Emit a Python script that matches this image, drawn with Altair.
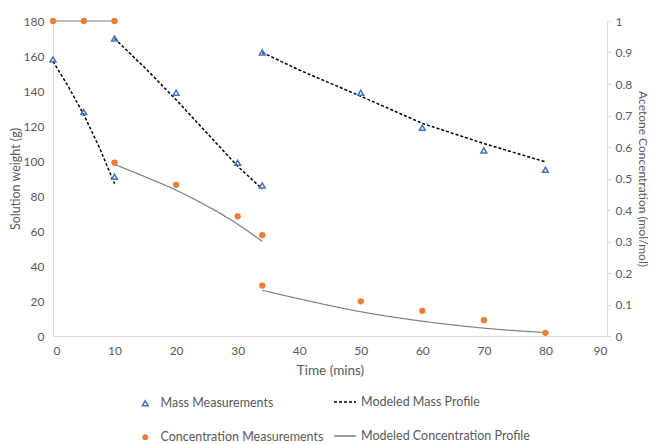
import altair as alt
import pandas as pd

# ---- data ----
mass_time = [0, 5, 10, 10, 20, 30, 34, 34, 50, 60, 70, 80]
mass_weight = [158, 128, 91, 170, 139, 99, 86, 162, 139, 119, 106, 95]

conc_time = [0, 5, 10, 10, 20, 30, 34, 34, 50, 60, 70, 80]
conc_value = [1.0, 1.0, 1.0, 0.55, 0.48, 0.38, 0.32, 0.16, 0.11, 0.08, 0.05, 0.01]

model_mass_segment = [1] * 5 + [2] * 6 + [3] * 6
model_mass_time = [0, 2.5, 5, 7.5, 10, 10, 15, 20, 25, 30, 34, 34, 40, 50, 60, 70, 80]
model_mass_weight = [157, 142.5, 126.5, 108, 87, 170, 153, 135, 116, 97, 84,
                     162, 152, 137, 121.5, 110, 99.5]

model_conc_segment = [1] * 2 + [2] * 6 + [3] * 6
model_conc_time = [0, 10, 10, 15, 20, 25, 30, 34, 34, 40, 50, 60, 70, 80]
model_conc_value = [1.0, 1.0, 0.545, 0.505, 0.463, 0.413, 0.355, 0.30,
                    0.145, 0.118, 0.077, 0.047, 0.025, 0.011]

x_ticks = [0, 10, 20, 30, 40, 50, 60, 70, 80, 90]
left_ticks = [0, 20, 40, 60, 80, 100, 120, 140, 160, 180]
right_ticks = [0, 0.1, 0.2, 0.3, 0.4, 0.5, 0.6, 0.7, 0.8, 0.9, 1]

names = ["Mass Measurements", "Concentration Measurements",
         "Modeled Mass Profile", "Modeled Concentration Profile"]
colors = ["#4472C4", "#ED7D31", "#000000", "#7F7F7F"]

mass_df = pd.DataFrame({"t": mass_time, "v": mass_weight, "series": names[0]})
conc_df = pd.DataFrame({"t": conc_time, "v": conc_value, "series": names[1]})
mm_df = pd.DataFrame({"t": model_mass_time, "v": model_mass_weight,
                      "seg": model_mass_segment, "series": names[2]})
mc_df = pd.DataFrame({"t": model_conc_time, "v": model_conc_value,
                      "seg": model_conc_segment, "series": names[3]})

FONT = "Lato"
GREY = "#595959"
AXC = "#D9D9D9"

x_axis = alt.Axis(values=x_ticks, title="Time (mins)", grid=False, ticks=False,
                  domainColor=AXC, labelPadding=9, titlePadding=7,
                  labelColor=GREY, titleColor=GREY, labelFontSize=12,
                  titleFontSize=13.5, titleFontWeight="normal", labelFont=FONT,
                  titleFont=FONT)
x_enc = alt.X("t:Q", scale=alt.Scale(domain=[0, 90], nice=False, zero=True), axis=x_axis)

left_scale = alt.Scale(domain=[0, 180], nice=False, zero=True)
right_scale = alt.Scale(domain=[0, 1], nice=False, zero=True)


def leg(x, y, size, stroke=False, offset=9):
    kw = dict(orient="none", legendX=x, legendY=y, title=None, padding=0,
              labelFont=FONT, labelFontSize=12.5, labelColor=GREY,
              labelOffset=offset, labelLimit=400, symbolSize=size)
    if stroke:
        kw["symbolType"] = "stroke"
    return alt.Legend(**kw)


mass_pts = alt.Chart(mass_df).mark_point(filled=False, strokeWidth=1.5, size=34, opacity=1).encode(
    x=x_enc,
    y=alt.Y("v:Q", scale=left_scale,
            axis=alt.Axis(orient="left", values=left_ticks, title="Solution weight (g)",
                          grid=False, ticks=False, domainColor=AXC, labelPadding=9,
                          titlePadding=1, labelColor=GREY, titleColor=GREY,
                          labelFontSize=12, titleFontSize=12.5, titleFontWeight="normal",
                          labelFont=FONT, titleFont=FONT)),
    color=alt.Color("series:N", scale=alt.Scale(domain=[names[0]], range=[colors[0]]),
                    legend=leg(86, 376, 34)),
    shape=alt.Shape("series:N", scale=alt.Scale(domain=[names[0]], range=["triangle-up"]),
                    legend=leg(86, 376, 34)),
)

conc_pts = alt.Chart(conc_df).mark_point(filled=True, size=40, opacity=1).encode(
    x=x_enc,
    y=alt.Y("v:Q", scale=right_scale,
            axis=alt.Axis(orient="right", values=right_ticks, format="~g",
                          title="Acetone Concentration (mol/mol)", grid=False, ticks=True,
                          tickSize=4, tickColor=AXC, domainColor=AXC, labelPadding=4,
                          titlePadding=4, labelColor=GREY, titleColor=GREY,
                          labelFontSize=12, titleFontSize=12, titleFontWeight="normal",
                          labelFont=FONT, titleFont=FONT)),
    color=alt.Color("series:N", scale=alt.Scale(domain=[names[1]], range=[colors[1]]),
                    legend=leg(86, 410, 34)),
    shape=alt.Shape("series:N", scale=alt.Scale(domain=[names[1]], range=["circle"]),
                    legend=leg(86, 410, 34)),
)

mm_line = alt.Chart(mm_df).mark_line(strokeWidth=1.5, strokeDash=[3, 2]).encode(
    x=x_enc,
    y=alt.Y("v:Q", scale=left_scale, axis=None),
    detail="seg:N",
    color=alt.Color("series:N", scale=alt.Scale(domain=[names[2]], range=[colors[2]]),
                    legend=leg(280, 369, 484, True, 4)),
    strokeDash=alt.StrokeDash("series:N", scale=alt.Scale(domain=[names[2]], range=[[3, 2]]),
                              legend=leg(280, 369, 484, True, 4)),
)

mc_line = alt.Chart(mc_df).mark_line(strokeWidth=1.2, interpolate="monotone").encode(
    x=x_enc,
    y=alt.Y("v:Q", scale=right_scale, axis=None),
    detail="seg:N",
    color=alt.Color("series:N", scale=alt.Scale(domain=[names[3]], range=[colors[3]]),
                    legend=leg(280, 403, 484, True, 4)),
    strokeDash=alt.StrokeDash("series:N", scale=alt.Scale(domain=[names[3]], range=[[1, 0]]),
                              legend=leg(280, 403, 484, True, 4)),
)

chart = alt.layer(mc_line, mm_line, mass_pts, conc_pts).resolve_scale(
    y="independent", color="independent", shape="independent", strokeDash="independent"
).properties(
    width=554, height=315,
    autosize=alt.AutoSizeParams(type="none"),
    padding={"left": 53, "top": 21, "right": 44, "bottom": 108},
    background="white",
).configure_view(strokeWidth=0)

chart.save("out.html", embed_options={"renderer": "svg", "actions": False})
